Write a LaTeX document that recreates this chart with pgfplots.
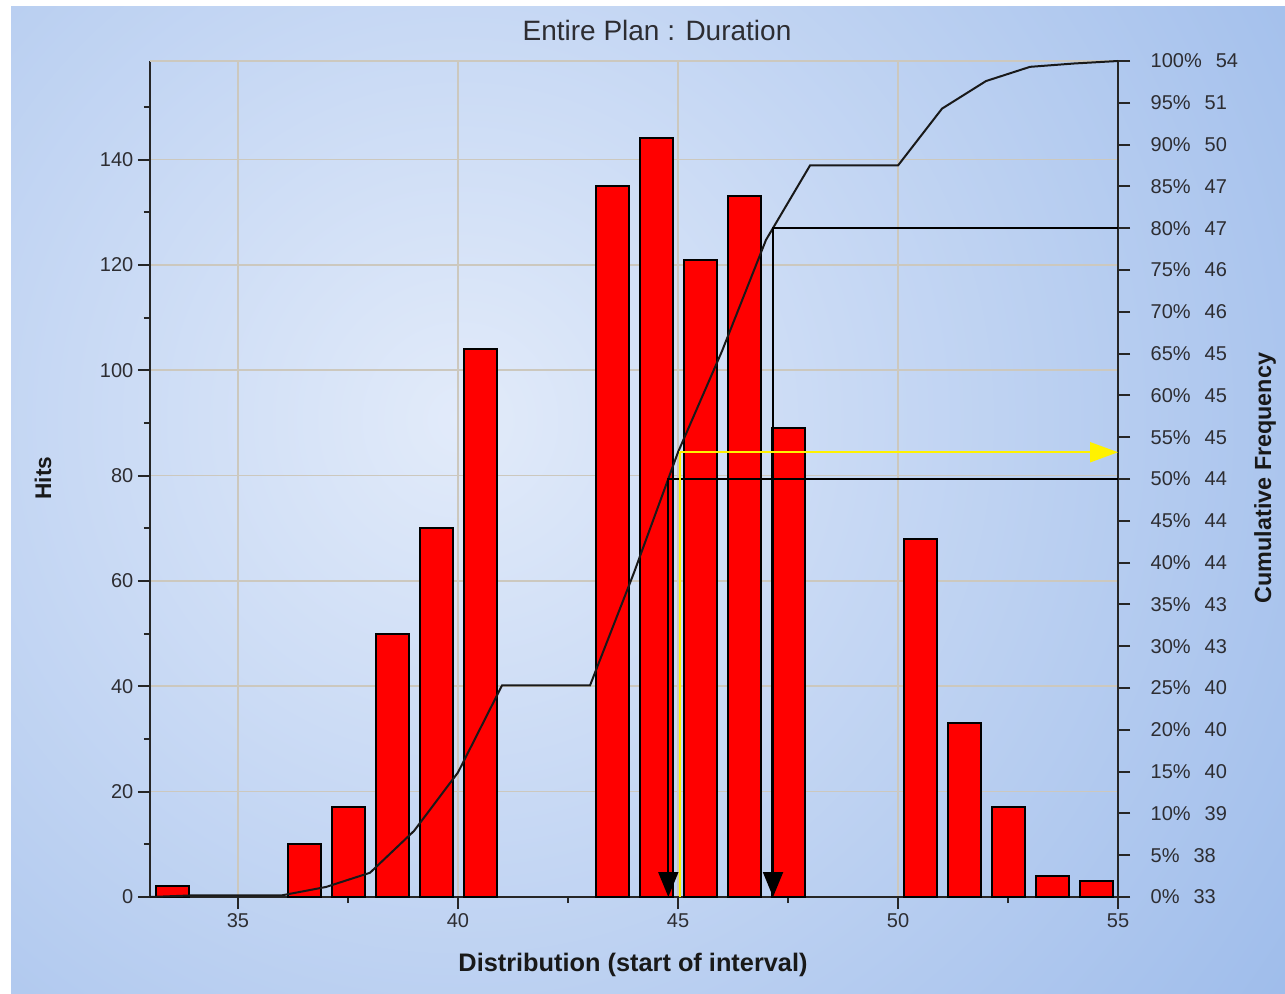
\documentclass[border=0pt]{standalone}
\usepackage{pgfplots}
\pgfplotsset{compat=1.18}
\usepackage{fontspec}
\setmainfont{Liberation Sans}
\usetikzlibrary{arrows.meta}

\definecolor{bgedge}{RGB}{155,186,234}
\definecolor{bgcenter}{RGB}{226,235,250}
\definecolor{gridc}{RGB}{204,200,190}
\definecolor{txt}{RGB}{45,45,50}
\definecolor{barred}{RGB}{255,0,0}

\begin{document}
\begin{tikzpicture}
% page background (1px = 0.75pt)
\useasboundingbox (0pt,0pt) rectangle (963.75pt,744.75pt);
\fill[white] (0pt,0pt) rectangle (963.75pt,744.75pt);
\begin{scope}
  \clip (8.25pt,-12pt) rectangle (976pt,739.5pt);
  \fill[bgedge] (8.25pt,-12pt) rectangle (976pt,739.5pt);
  \shade[inner color=bgcenter, outer color=bgedge] (345pt,430pt) circle (800pt);
\end{scope}

% hits histogram
\begin{axis}[
    at={(112.5pt,72pt)}, anchor=south west,
    scale only axis, width=726pt, height=627pt,
    xmin=33, xmax=55, ymin=0, ymax=158.7,
    axis x line*=bottom, axis y line*=left,
    axis line style={line width=1.5pt, black!85},
    xtick={35,40,45,50,55}, minor xtick={37.5,42.5,47.5,52.5},
    ytick={0,20,...,140}, minor ytick={10,30,...,150},
    tick align=outside, major tick length=9pt, minor tick length=4.5pt,
    every tick/.style={line width=1.5pt, black!85},
    xmajorgrids, ymajorgrids,
    grid style={gridc, line width=1.2pt},
    ticklabel style={font=\fontsize{15}{18}\selectfont, text=txt},
    /pgf/number format/assume math mode=true,
    clip=false,
]
\draw[gridc, line width=1.2pt] (axis cs:33,158.7) -- (axis cs:55,158.7);
\addplot[ybar, bar width=0.75, fill=barred, draw=black, line width=1.5pt]
    coordinates {
        (33.5,2) (36.5,10) (37.5,17) (38.5,50) (39.5,70) (40.5,104)
        (43.5,135) (44.5,144) (45.5,121) (46.5,133) (47.5,89)
        (50.5,68) (51.5,33) (52.5,17) (53.5,4) (54.5,3)
    };
\end{axis}

% cumulative frequency
\begin{axis}[
    at={(112.5pt,72pt)}, anchor=south west,
    scale only axis, width=726pt, height=627pt,
    xmin=33, xmax=55, ymin=0, ymax=100,
    axis x line=none, axis y line*=right,
    axis line style={line width=1.5pt, black!85},
    ytick={0,5,...,100},
    yticklabels={0\%\hspace{0.7em}33, 5\%\hspace{0.7em}38, 10\%\hspace{0.7em}39,
        15\%\hspace{0.7em}40, 20\%\hspace{0.7em}40, 25\%\hspace{0.7em}40,
        30\%\hspace{0.7em}43, 35\%\hspace{0.7em}43, 40\%\hspace{0.7em}44,
        45\%\hspace{0.7em}44, 50\%\hspace{0.7em}44, 55\%\hspace{0.7em}45,
        60\%\hspace{0.7em}45, 65\%\hspace{0.7em}45, 70\%\hspace{0.7em}46,
        75\%\hspace{0.7em}46, 80\%\hspace{0.7em}47, 85\%\hspace{0.7em}47,
        90\%\hspace{0.7em}50, 95\%\hspace{0.7em}51, 100\%\hspace{0.7em}54},
    tick align=outside, major tick length=9pt,
    every tick/.style={line width=1.5pt, black!85},
    ticklabel style={font=\fontsize{15}{18}\selectfont, text=txt},
    yticklabel style={anchor=west, xshift=12pt},
    clip=false,
]
\addplot[black!90, line width=1.5pt] coordinates {
    (33,0) (34,0.2) (35,0.2) (36,0.2) (37,1.2) (38,2.9) (39,7.9) (40,14.9)
    (41,25.3) (42,25.3) (43,25.3) (44,38.8) (45,53.2) (46,65.3) (47,78.6)
    (48,87.5) (49,87.5) (50,87.5) (51,94.3) (52,97.6) (53,99.3) (54,99.7) (55,100)
};
\addplot[black, line width=1.5pt, -{Triangle[length=18.75pt,width=15pt]}]
    coordinates {(55,80) (47.16,80) (47.16,0)};
\addplot[black, line width=1.5pt, -{Triangle[length=18.75pt,width=15pt]}]
    coordinates {(55,50) (44.78,50) (44.78,0)};
\addplot[yellow, line width=1.5pt, -{Triangle[length=21pt,width=15pt]}]
    coordinates {(45.05,0) (45.05,53.2) (55,53.2)};
\end{axis}

% titles
\node[font=\fontsize{21}{25}\selectfont, text=txt] at (492.75pt,721.5pt) {Entire Plan : Duration};
\node[font=\bfseries\fontsize{19}{23}\selectfont, text=black!90] at (474.75pt,21pt) {Distribution (start of interval)};
\node[rotate=90, font=\bfseries\fontsize{17}{20}\selectfont, text=black!90] at (32.25pt,386.25pt) {Hits};
\node[rotate=90, font=\bfseries\fontsize{17.5}{21}\selectfont, text=black!90] at (948.75pt,386.25pt) {Cumulative Frequency};
\end{tikzpicture}
\end{document}
